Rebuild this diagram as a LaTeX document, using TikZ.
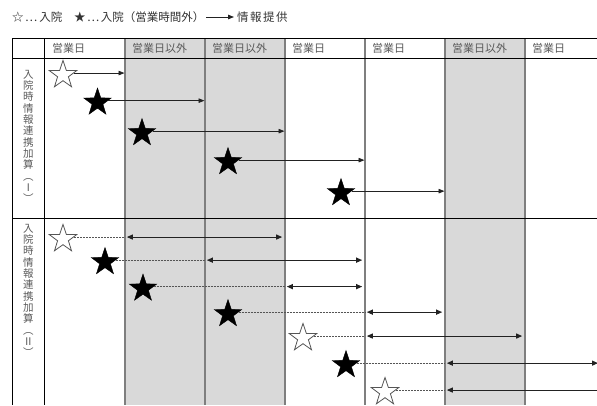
\documentclass[tikz,border=0pt]{standalone}
\usepackage{fontspec}
\newfontfamily\jp{Noto Sans CJK JP}
\usetikzlibrary{shapes.geometric,arrows.meta}
\definecolor{cellgray}{HTML}{D9D9D9}
\definecolor{linegray}{HTML}{7F7F7F}
\definecolor{txtgray}{HTML}{5A5A5A}
\definecolor{legtxt}{HTML}{333333}
\definecolor{dashgray}{HTML}{555555}
\definecolor{arrcol}{HTML}{222222}
\begin{document}
\begin{tikzpicture}[x=1pt,y=-1pt,
  hdr/.style={anchor=west,inner sep=0pt,text=txtgray,font=\jp\fontsize{11}{12}\selectfont},
  leg/.style={anchor=west,inner sep=0pt,text=legtxt,font=\jp\fontsize{11.5}{12}\selectfont},
  vlabel/.style={anchor=north,inner sep=0pt,align=center,text=txtgray,font=\jp\fontsize{10.5}{11.3}\selectfont},
  wstar/.style={star,star points=5,star point ratio=2.55,minimum size=29pt,inner sep=0pt,draw=dashgray,fill=white,line width=0.8pt},
  bstar/.style={star,star points=5,star point ratio=2.55,minimum size=29pt,inner sep=0pt,draw=black,fill=black,line width=0.4pt},
  blackline/.style={draw=black,line width=0.8pt},
  colline/.style={draw=linegray,line width=1.4pt},
  arrI/.style={draw=arrcol,line width=0.8pt,-{Triangle[length=6pt,width=4.5pt]},shorten >=0.5pt},
  arrII/.style={draw=arrcol,line width=1.1pt,{Triangle[length=6pt,width=5pt]}-{Triangle[length=6pt,width=5pt]},shorten <=1.8pt,shorten >=2.8pt},
  dashln/.style={draw=dashgray,line width=0.8pt,dash pattern=on 2pt off 1pt}
]
\useasboundingbox (0,0) rectangle (597,405);
\fill[white] (0,0) rectangle (597,405);

% column coordinates
\coordinate (c0) at (12,38);
\coordinate (c1) at (44,38);
\coordinate (c2) at (125,38);
\coordinate (c3) at (205,38);
\coordinate (c4) at (285,38);
\coordinate (c5) at (365,38);
\coordinate (c6) at (445,38);
\coordinate (c7) at (525,38);
\coordinate (c8) at (597,38);
\coordinate (c9) at (606,38);

% gray columns
\fill[cellgray] (125,38) rectangle (205,405);
\fill[cellgray] (205,38) rectangle (285,405);
\fill[cellgray] (445,38) rectangle (525,405);

% column lines
\foreach \x in {125,205,285,365,445,525} \draw[colline] (\x,38) -- (\x,405);

% black lines
\draw[blackline] (12,38) -- (597,38);
\draw[blackline] (12,58) -- (597,58);
\draw[blackline] (12,218) -- (597,218);
\draw[blackline] (12,38) -- (12,405);
\draw[blackline] (44,38) -- (44,405);

% legend
\node[leg] (leg1) at (12,17) {☆\kern1.5pt…\kern2pt入院};
\node[leg] (leg2) at (74,17) {★\kern1.5pt…\kern1.5pt入院（営業時間外）};
\coordinate (la) at (206,17);
\node[leg] (info) at (237,17) {情\kern1.5pt報\kern1.5pt提\kern1.5pt供};
\draw[arrI,shorten >=3pt] (la) -- (info.west);

% header
\node[hdr] (h1) at (52,48) {営業日};
\node[hdr] (h2) at (132,48) {営業日以外};
\node[hdr] (h3) at (212,48) {営業日以外};
\node[hdr] (h4) at (292,48) {営業日};
\node[hdr] (h5) at (372,48) {営業日};
\node[hdr] (h6) at (452,48) {営業日以外};
\node[hdr] (h7) at (532,48) {営業日};

% vertical labels
\node[vlabel] (lab1) at (28.5,70) {入\\院\\時\\情\\報\\連\\携\\加\\算\\︵\\Ⅰ\\︶};
\node[vlabel] (lab2) at (28.5,224) {入\\院\\時\\情\\報\\連\\携\\加\\算\\︵\\Ⅱ\\︶};

% section I
\node[wstar] (s1) at (63,75) {};
\node[bstar] (s2) at (97.5,102.5) {};
\node[bstar] (s3) at (142,133) {};
\node[bstar] (s4) at (228,162) {};
\node[bstar] (s5) at (341,193) {};
\draw[arrI] (s1.10) -- (s1.10 -| c2);
\draw[arrI] (s2.10) -- (s2.10 -| c3);
\draw[arrI] (s3.10) -- (s3.10 -| c4);
\draw[arrI] (s4.10) -- (s4.10 -| c5);
\draw[arrI] (s5.10) -- (s5.10 -| c6);

% section II
\node[wstar] (t1) at (63,239) {};
\node[bstar] (t2) at (105,262) {};
\node[bstar] (t3) at (143,288.5) {};
\node[bstar] (t4) at (228,314) {};
\node[wstar] (t5) at (303,338) {};
\node[bstar] (t6) at (346,365) {};
\node[wstar] (t7) at (385,392) {};

\draw[dashln] (t1.10) -- (t1.10 -| c2);
\draw[arrII] (t1.10 -| c2) -- (t1.10 -| c4);
\draw[dashln] (t2.10) -- (t2.10 -| c3);
\draw[arrII] (t2.10 -| c3) -- (t2.10 -| c5);
\draw[dashln] (t3.10) -- (t3.10 -| c4);
\draw[arrII] (t3.10 -| c4) -- (t3.10 -| c5);
\draw[dashln] (t4.10) -- (t4.10 -| c5);
\draw[arrII] (t4.10 -| c5) -- (t4.10 -| c6);
\draw[dashln] (t5.10) -- (t5.10 -| c5);
\draw[arrII] (t5.10 -| c5) -- (t5.10 -| c7);
\draw[dashln] (t6.10) -- (t6.10 -| c6);
\draw[arrII,shorten >=-1pt] (t6.10 -| c6) -- (t6.10 -| c8);
\draw[dashln] (t7.10) -- (t7.10 -| c6);
\draw[arrII] (t7.10 -| c6) -- (t7.10 -| c9);
\end{tikzpicture}
\end{document}
